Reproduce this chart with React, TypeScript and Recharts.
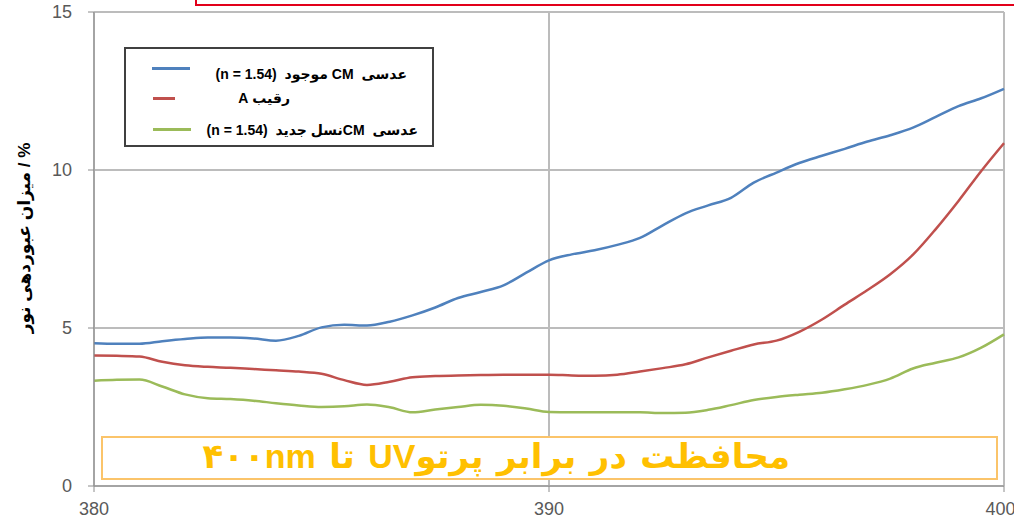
import { CartesianGrid, Legend, Line, LineChart, XAxis, YAxis } from "recharts";

// wavelength (nm), 0.5 nm steps
const wavelengths = [
  380, 380.5, 381, 381.5, 382, 382.5, 383, 383.5, 384, 384.5, 385, 385.5, 386, 386.5, 387,
  387.5, 388, 388.5, 389, 389.5, 390, 390.5, 391, 391.5, 392, 392.5, 393, 393.5, 394, 394.5,
  395, 395.5, 396, 396.5, 397, 397.5, 398, 398.5, 399, 399.5, 400,
];

// عدسی CM موجود (n = 1.54)
const currentCM = [
  4.52, 4.5, 4.5, 4.58, 4.65, 4.7, 4.7, 4.67, 4.6, 4.75, 5.02, 5.1, 5.08, 5.2, 5.4,
  5.65, 5.95, 6.14, 6.35, 6.75, 7.14, 7.33, 7.46, 7.63, 7.85, 8.25, 8.63, 8.88, 9.12, 9.6,
  9.92, 10.22, 10.45, 10.67, 10.9, 11.1, 11.34, 11.68, 12.02, 12.27, 12.57,
];

// رقیب A
const rivalA = [
  4.13, 4.12, 4.1, 3.93, 3.82, 3.77, 3.74, 3.7, 3.66, 3.62, 3.55, 3.35, 3.2, 3.3, 3.44,
  3.48, 3.5, 3.51, 3.52, 3.52, 3.52, 3.5, 3.49, 3.52, 3.62, 3.73, 3.85, 4.07, 4.28, 4.48,
  4.6, 4.88, 5.27, 5.74, 6.2, 6.7, 7.32, 8.13, 9.02, 9.97, 10.85,
];

// عدسی CM نسل جدید (n = 1.54)
const newCM = [
  3.33, 3.36, 3.37, 3.15, 2.9, 2.78, 2.75, 2.7, 2.62, 2.55, 2.5, 2.52, 2.58, 2.49, 2.33,
  2.42, 2.5, 2.57, 2.54, 2.45, 2.34, 2.33, 2.33, 2.33, 2.33, 2.31, 2.32, 2.41, 2.56, 2.72,
  2.82, 2.89, 2.95, 3.06, 3.2, 3.4, 3.72, 3.9, 4.07, 4.38, 4.8,
];

const xTicks = [380, 390, 400];
const yTicks = [0, 5, 10, 15];

const data = wavelengths.map((wl, i) => ({
  wl,
  current: currentCM[i],
  rival: rivalA[i],
  next: newCM[i],
}));

const FONT = '"Liberation Sans", Arial, "DejaVu Sans", sans-serif';

// legend rows keyed by series: sample line position/length and text right edge inside the box
const legendRows: Record<string, any> = {
  current: { lineX: 26, lineW: 38, y: 19, textRight: 25, textTop: 17 },
  rival: { lineX: 27, lineW: 22, y: 49, textRight: 142, textTop: 41 },
  next: { lineX: 27, lineW: 38, y: 80, textRight: 14, textTop: 73 },
};

const LegendBox = ({ payload }: any) => (
  <div
    style={{
      position: "relative",
      width: 306,
      height: 96,
      border: "2px solid #404040",
      background: "#fff",
      fontFamily: FONT,
    }}
  >
    {(payload || []).map((entry: any) => {
      const row = legendRows[entry.dataKey];
      if (!row) return null;
      return (
        <div key={entry.dataKey}>
          <div
            style={{
              position: "absolute",
              left: row.lineX,
              top: row.y - 1,
              width: row.lineW,
              height: 2.5,
              background: entry.color,
            }}
          />
          <div
            dir="rtl"
            style={{
              position: "absolute",
              right: row.textRight,
              top: row.textTop,
              fontSize: 14,
              fontWeight: "bold",
              color: "#000",
              whiteSpace: "pre",
            }}
          >
            {entry.value}
          </div>
        </div>
      );
    })}
  </div>
);

const YLabel = () => (
  <text
    x={24}
    y={238}
    transform="rotate(-90, 24, 238)"
    textAnchor="middle"
    dominantBaseline="central"
    direction="rtl"
    fontFamily={FONT}
    fontSize={17}
    fontWeight="bold"
    fill="#000"
  >
    % / میزان عبوردهی نور
  </text>
);

export default function App() {
  return (
    <div
      style={{
        position: "absolute",
        left: 0,
        top: 0,
        width: 1014,
        height: 522,
        overflow: "hidden",
        background: "#fff",
      }}
    >
      <LineChart
        width={1014}
        height={522}
        data={data}
        margin={{ top: 12, right: 10, bottom: 0, left: 0 }}
      >
        <CartesianGrid stroke="#bcbcbc" strokeWidth={2} />
        <XAxis
          dataKey="wl"
          type="number"
          domain={[380, 400]}
          ticks={xTicks}
          height={36}
          tickSize={6}
          tickMargin={10}
          stroke="#8c8c8c"
          tick={{ fill: "#595959", fontSize: 18, fontFamily: FONT }}
        />
        <YAxis
          type="number"
          domain={[0, 15]}
          ticks={yTicks}
          width={94}
          tickSize={6}
          tickMargin={16}
          stroke="#8c8c8c"
          tick={{ fill: "#595959", fontSize: 18, fontFamily: FONT }}
          label={<YLabel />}
        />
        <Legend
          layout="vertical"
          align="center"
          verticalAlign="middle"
          itemSorter={null}
          content={<LegendBox />}
          wrapperStyle={{ left: 124, top: 47, width: 310 }}
        />
        <Line
          dataKey="current"
          name="عدسی  CM موجود  (n = 1.54)"
          stroke="#4f81bd"
          strokeWidth={2.5}
          type="monotone"
          dot={false}
          isAnimationActive={false}
        />
        <Line
          dataKey="rival"
          name="رقیب A"
          stroke="#c0504d"
          strokeWidth={2.5}
          type="monotone"
          dot={false}
          isAnimationActive={false}
        />
        <Line
          dataKey="next"
          name="عدسی  CMنسل جدید  (n = 1.54)"
          stroke="#9bbb59"
          strokeWidth={2.5}
          type="monotone"
          dot={false}
          isAnimationActive={false}
        />
      </LineChart>

      {/* red frame corner at the top */}
      <div
        style={{
          position: "absolute",
          left: 195,
          top: -20,
          width: 900,
          height: 22,
          border: "2px solid #e2001a",
        }}
      />

      {/* caption box */}
      <div
        style={{
          position: "absolute",
          left: 101,
          top: 436,
          width: 893,
          height: 40,
          border: "2px solid #fbc46a",
          background: "#fff",
        }}
      >
        <div
          dir="rtl"
          style={{
            position: "absolute",
            right: 206,
            top: -2,
            fontFamily: FONT,
            fontSize: 34,
            fontWeight: "bold",
            color: "#ffc000",
            whiteSpace: "pre",
            wordSpacing: 4,
          }}
        >
          محافظت در برابر پرتوUV تا ۴۰۰nm
        </div>
      </div>
    </div>
  );
}
